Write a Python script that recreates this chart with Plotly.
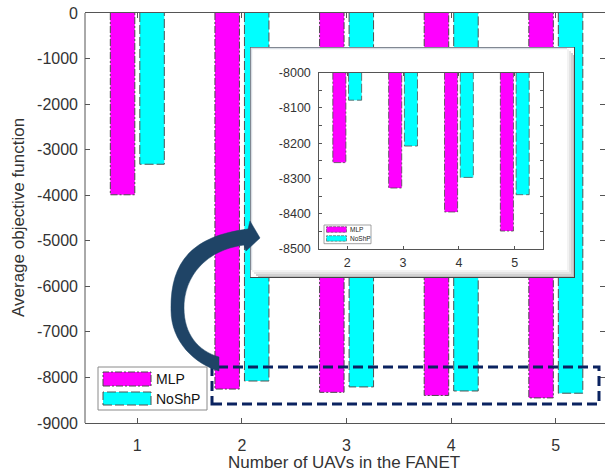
import plotly.graph_objects as go

# ---------------- data ----------------
uav_counts = [1, 2, 3, 4, 5]
mlp_values = [-3990, -8255, -8327, -8395, -8449]
noshp_values = [-3320, -8078, -8208, -8297, -8346]
series_names = ["MLP", "NoShP"]

main_y_ticks = list(range(-9000, 1, 1000))
inset_y_ticks = list(range(-8500, -7999, 100))

# zoomed inset shows groups 2..5
inset_counts = uav_counts[1:]
inset_mlp = mlp_values[1:]
inset_noshp = noshp_values[1:]

# ---------------- page geometry (pixels) ----------------
W, H = 605, 475
ML, MR, MT, MB = 85, 0, 13, 52
PW = W - ML - MR
PH = H - MT - MB


def pxx(x):
    """pixel column -> paper x"""
    return (x - ML) / PW


def pxy(y):
    """pixel row -> paper y"""
    return (H - MB - y) / PH


MAGENTA = "#ff00ff"
CYAN = "#00ffff"
AXIS = "#555555"
TEXT = "#333333"
NAVY = "#0b2360"
ARROW = "#1f4466"
FONT = "Liberation Sans, Arial, sans-serif"

BAR_W = 0.234
BAR_GAP = 0.024
OFFSETS = [-(BAR_W + BAR_GAP), BAR_GAP]
EDGE_DASH = ["7px,2px,2px,2px", "9px,3px"]
EDGE_COL = ["#4a4a4a", "#505050"]
FILLS = [MAGENTA, CYAN]

MAIN_XRANGE = [0.5, 5.47]
MAIN_YRANGE = [-9000, 0]
INSET_XRANGE = [1.5, 5.5]
INSET_YRANGE = [-8500, -8000]

# inset frame and inset plot area (pixels)
FR_X0, FR_X1, FR_Y0, FR_Y1 = 250, 575, 47, 278
IN_X0, IN_X1, IN_Y0, IN_Y1 = 319.3, 542.7, 72.7, 249


def bar_edges(xs, ys, off, top):
    X, Y = [], []
    for x, v in zip(xs, ys):
        x0 = x + off
        x1 = x0 + BAR_W
        X += [x0, x0, x1, x1, None]
        Y += [top, v, v, top, None]
    return X, Y


fig = go.Figure()

# ---------------- main bars ----------------
for k, vals in enumerate([mlp_values, noshp_values]):
    fig.add_trace(go.Bar(
        x=uav_counts, y=vals, width=BAR_W, offset=OFFSETS[k],
        marker=dict(color=FILLS[k], line=dict(width=0)),
        name=series_names[k], showlegend=False, hoverinfo="skip",
        xaxis="x", yaxis="y",
    ))
for k, vals in enumerate([mlp_values, noshp_values]):
    ex, ey = bar_edges(uav_counts, vals, OFFSETS[k], 0)
    fig.add_trace(go.Scatter(
        x=ex, y=ey, mode="lines", showlegend=False, hoverinfo="skip",
        line=dict(color=EDGE_COL[k], width=1, dash=EDGE_DASH[k]),
        xaxis="x", yaxis="y",
    ))

# ---------------- inset frame (own subplot so it covers the bars) ----------------
fw, fh = FR_X1 - FR_X0, FR_Y1 - FR_Y0


def fx(x):
    return (x - FR_X0) / fw


def fy(y):
    return (FR_Y1 - y) / fh


bevel = ["#f3f3f3", "#e4e4e4", "#d2d2d2", "#bdbdbd"]
for i, c in enumerate(bevel):
    a = 567 + 2 * i
    b = a + 2
    fig.add_trace(go.Scatter(
        x=[fx(a), fx(b), fx(b), fx(a), fx(a)],
        y=[fy(FR_Y0 + 2 + 2 * i), fy(FR_Y0 + 2 + 2 * i), 0, 0, fy(FR_Y0 + 2 + 2 * i)],
        fill="toself", fillcolor=c, mode="none", showlegend=False,
        hoverinfo="skip", xaxis="x2", yaxis="y2"))
    ya = 270 + 2 * i
    yb = ya + 2
    fig.add_trace(go.Scatter(
        x=[fx(FR_X0 + 2 + 2 * i), fx(FR_X1 - 8 + 2 * i + 2), fx(FR_X1 - 8 + 2 * i + 2), fx(FR_X0 + 2 + 2 * i), fx(FR_X0 + 2 + 2 * i)],
        y=[fy(ya), fy(ya), fy(yb), fy(yb), fy(ya)],
        fill="toself", fillcolor=c, mode="none", showlegend=False,
        hoverinfo="skip", xaxis="x2", yaxis="y2"))
# light inner rim at top/left
fig.add_trace(go.Scatter(
    x=[fx(FR_X0 + 1.5), fx(FR_X0 + 1.5), fx(FR_X1 - 8)],
    y=[fy(FR_Y1 - 8), fy(FR_Y0 + 1.5), fy(FR_Y0 + 1.5)],
    mode="lines", line=dict(color="#d8dde4", width=1.5), showlegend=False,
    hoverinfo="skip", xaxis="x2", yaxis="y2"))
# frame outline: lighter top/left, darker right/bottom
fig.add_trace(go.Scatter(
    x=[0, 0, 1], y=[0, 1, 1], mode="lines",
    line=dict(color="#5b6470", width=1.5), showlegend=False,
    hoverinfo="skip", xaxis="x2", yaxis="y2", cliponaxis=False))
fig.add_trace(go.Scatter(
    x=[1, 1, 0], y=[1, 0, 0], mode="lines",
    line=dict(color="#444444", width=2), showlegend=False,
    hoverinfo="skip", xaxis="x2", yaxis="y2", cliponaxis=False))

# ---------------- inset bars ----------------
for k, vals in enumerate([inset_mlp, inset_noshp]):
    fig.add_trace(go.Bar(
        x=inset_counts, y=vals, width=BAR_W, offset=OFFSETS[k],
        marker=dict(color=FILLS[k], line=dict(width=0)),
        showlegend=False, hoverinfo="skip", xaxis="x3", yaxis="y3",
    ))
for k, vals in enumerate([inset_mlp, inset_noshp]):
    ex, ey = bar_edges(inset_counts, vals, OFFSETS[k], INSET_YRANGE[1])
    fig.add_trace(go.Scatter(
        x=ex, y=ey, mode="lines", showlegend=False, hoverinfo="skip",
        line=dict(color=EDGE_COL[k], width=0.8, dash=EDGE_DASH[k]),
        xaxis="x3", yaxis="y3",
    ))

# ---------------- shapes ----------------
shapes = []
# left axis line of the main plot
shapes.append(dict(type="line", xref="paper", yref="paper", x0=0, x1=0, y0=0, y1=1,
                   line=dict(color=AXIS, width=1), layer="below"))

# dashed zoom region
shapes.append(dict(type="rect", xref="paper", yref="paper",
                   x0=pxx(212), x1=pxx(599), y0=pxy(404), y1=pxy(367),
                   line=dict(color=NAVY, width=3, dash="10px,5px"), layer="above"))

# curved arrow towards the inset
arrow_pts = [
    ("M", [(219, 371)]),
    ("C", [(195, 364), (171, 342), (171, 310)]),
    ("C", [(170, 262), (192, 236), (248, 229)]),
    ("L", [(250, 221)]),
    ("L", [(260, 238)]),
    ("L", [(246, 251)]),
    ("L", [(244, 245)]),
    ("C", [(206, 250), (184, 276), (184, 308)]),
    ("C", [(184, 334), (198, 351), (219, 357)]),
]
path = ""
for cmd, pts in arrow_pts:
    path += cmd + " ".join(f"{pxx(a):.5f},{pxy(b):.5f}" for a, b in pts) + " "
path += "Z"
shapes.append(dict(type="path", xref="paper", yref="paper", path=path,
                   fillcolor=ARROW, line=dict(color=ARROW, width=0.5), layer="above"))

annotations = []

# main legend
shapes.append(dict(type="rect", xref="paper", yref="paper",
                   x0=pxx(98), x1=pxx(207), y0=pxy(410), y1=pxy(367),
                   fillcolor="white", line=dict(color="#8a8a8a", width=1), layer="above"))
for k, (y0, y1) in enumerate([(372, 386), (392, 405)]):
    shapes.append(dict(type="rect", xref="paper", yref="paper",
                       x0=pxx(103), x1=pxx(151), y0=pxy(y1), y1=pxy(y0),
                       fillcolor=FILLS[k],
                       line=dict(color=EDGE_COL[k], width=1, dash=EDGE_DASH[k]),
                       layer="above"))
    annotations.append(dict(x=pxx(154), y=pxy((y0 + y1) / 2), xref="paper", yref="paper",
                            text=series_names[k], showarrow=False, xanchor="left",
                            yanchor="middle", font=dict(family=FONT, size=14, color="#111")))

# inset legend
shapes.append(dict(type="rect", xref="paper", yref="paper",
                   x0=pxx(324), x1=pxx(371), y0=pxy(243.7), y1=pxy(225),
                   fillcolor="white", line=dict(color="#8a8a8a", width=0.8), layer="above"))
for k, (y0, y1) in enumerate([(226.7, 232.3), (235.7, 241.2)]):
    shapes.append(dict(type="rect", xref="paper", yref="paper",
                       x0=pxx(326.5), x1=pxx(346.5), y0=pxy(y1), y1=pxy(y0),
                       fillcolor=FILLS[k],
                       line=dict(color=EDGE_COL[k], width=0.6, dash="3px,1px"),
                       layer="above"))
    annotations.append(dict(x=pxx(347.5), y=pxy((y0 + y1) / 2), xref="paper", yref="paper",
                            text=series_names[k], showarrow=False, xanchor="left",
                            yanchor="middle", font=dict(family=FONT, size=6.5, color="#222")))

# axis titles
annotations.append(dict(x=pxx(344), y=pxy(462), xref="paper", yref="paper",
                        text="Number of UAVs in the FANET", showarrow=False,
                        xanchor="center", yanchor="middle",
                        font=dict(family=FONT, size=17, color=TEXT)))
annotations.append(dict(x=pxx(18), y=pxy(218), xref="paper", yref="paper",
                        text="Average objective function", showarrow=False, textangle=-90,
                        xanchor="center", yanchor="middle",
                        font=dict(family=FONT, size=17, color=TEXT)))

tick_font = dict(family=FONT, size=16, color=TEXT)
inset_font = dict(family=FONT, size=12.5, color=TEXT)

fig.update_layout(
    width=W, height=H,
    margin=dict(l=ML, r=MR, t=MT, b=MB, pad=0),
    paper_bgcolor="white", plot_bgcolor="white",
    barmode="overlay", showlegend=False,
    shapes=shapes, annotations=annotations,
    xaxis=dict(domain=[0, 1], range=MAIN_XRANGE, tickvals=uav_counts,
               ticktext=[str(v) for v in uav_counts],
               ticks="inside", ticklen=5, tickcolor=AXIS, tickwidth=1,
               showline=True, linecolor=AXIS, linewidth=1, mirror="ticks",
               showgrid=False, zeroline=False, tickfont=tick_font,
               ticklabelstandoff=8, anchor="y"),
    yaxis=dict(domain=[0, 1], range=MAIN_YRANGE, tickvals=main_y_ticks,
               ticktext=[str(v) for v in main_y_ticks],
               ticks="inside", ticklen=5, tickcolor=AXIS, tickwidth=1,
               showline=False, mirror="ticks",
               showgrid=False, zeroline=False, tickfont=tick_font,
               ticklabelstandoff=6, anchor="x"),
    xaxis2=dict(domain=[pxx(FR_X0), pxx(FR_X1)], range=[0, 1], showline=False,
                showticklabels=False, ticks="", showgrid=False, zeroline=False,
                anchor="y2"),
    yaxis2=dict(domain=[pxy(FR_Y1), pxy(FR_Y0)], range=[0, 1], showline=False,
                showticklabels=False, ticks="", showgrid=False, zeroline=False,
                anchor="x2"),
    xaxis3=dict(domain=[pxx(IN_X0), pxx(IN_X1)], range=INSET_XRANGE,
                tickvals=inset_counts, ticktext=[str(v) for v in inset_counts],
                ticks="inside", ticklen=3, tickcolor=AXIS, showline=True,
                linecolor=AXIS, linewidth=1, mirror="ticks", showgrid=False,
                zeroline=False, tickfont=inset_font, ticklabelstandoff=2,
                anchor="y3"),
    yaxis3=dict(domain=[pxy(IN_Y1), pxy(IN_Y0)], range=INSET_YRANGE,
                tickvals=inset_y_ticks, ticktext=[str(v) for v in inset_y_ticks],
                ticks="inside", ticklen=3, tickcolor=AXIS, showline=True,
                linecolor=AXIS, linewidth=1, mirror="ticks", showgrid=False,
                zeroline=False, tickfont=inset_font, ticklabelstandoff=5,
                minor=dict(dtick=50, ticks="inside", ticklen=3, tickcolor=AXIS),
                anchor="x3"),
)

fig.write_html("out.html", config={"displayModeBar": False, "staticPlot": True})
